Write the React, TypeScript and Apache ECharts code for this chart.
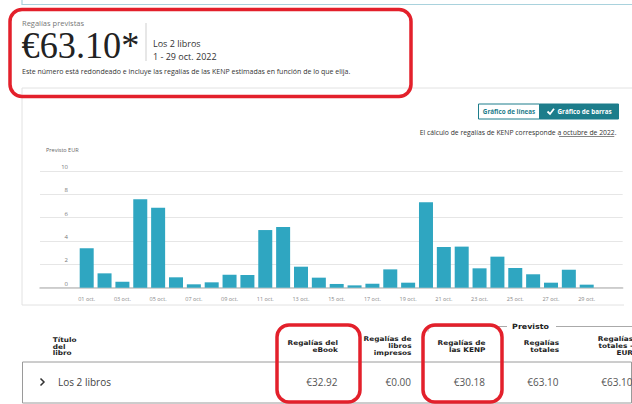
import React, { useEffect, useRef } from "react";
import * as echarts from "echarts";

const dayLabels = [
  "01 oct.", "02 oct.", "03 oct.", "04 oct.", "05 oct.", "06 oct.", "07 oct.", "08 oct.", "09 oct.", "10 oct.",
  "11 oct.", "12 oct.", "13 oct.", "14 oct.", "15 oct.", "16 oct.", "17 oct.", "18 oct.", "19 oct.", "20 oct.",
  "21 oct.", "22 oct.", "23 oct.", "24 oct.", "25 oct.", "26 oct.", "27 oct.", "28 oct.", "29 oct.",
];
const royalties = [
  3.38, 1.23, 0.51, 7.57, 6.86, 0.89, 0.29, 0.46, 1.11, 1.09,
  4.94, 5.2, 1.8, 0.86, 0.32, 0.2, 0.34, 1.57, 0.43, 7.32,
  3.49, 3.52, 1.66, 2.66, 1.69, 1.15, 0.43, 1.54, 0.26,
];
const yTicks = [0, 2, 4, 6, 8, 10];

const totalText = "€63.10*";
const headerTitle = "Regalías previstas";
const booksText = "Los 2 libros";
const periodText = "1 - 29 oct. 2022";
const noteText = "Este número está redondeado e incluye las regalías de las KENP estimadas en función de lo que elija.";
const toggleLabels = ["Gráfico de líneas", "Gráfico de barras"];
const kenpPrefix = "El cálculo de regalías de KENP corresponde a ";
const kenpLink = "octubre de 2022";
const yAxisTitle = "Previsto EUR";

const titleHeader = ["Título", "del", "libro"];
const columnHeaders = [
  ["Regalías del", "eBook"],
  ["Regalías de", "libros", "impresos"],
  ["Regalías de", "las KENP"],
  ["Regalías", "totales"],
  ["Regalías", "totales -", "EUR"],
];
const columnValues = ["€32.92", "€0.00", "€30.18", "€63.10", "€63.10"];
const groupHeader = "Previsto";
const rowTitle = "Los 2 libros";

const TEAL = "#1d7d8b";
const RED = "#e3202b";
const LINE_STEP = 6.7;

function headerLines(lines: string[], x: number, centerY: number, align: "left" | "right"): any[] {
  const top = centerY - ((lines.length - 1) * LINE_STEP) / 2;
  return lines.map((t, k) => ({
    type: "text",
    x,
    y: top + k * LINE_STEP,
    scaleX: 1.13,
    style: {
      text: t, align, verticalAlign: "middle", fontFamily: "DejaVu Sans", fontWeight: "bold",
      fontSize: 6.5, fill: "#222",
    },
  }));
}

export default function App() {
  const ref = useRef<HTMLDivElement>(null);
  useEffect(() => {
    if (!ref.current) return;
    const chart = echarts.init(ref.current, null, { renderer: "svg" });
    const colRight = [338, 411.5, 485.5, 559, 633];
    const headerG: any[] = [];
    columnHeaders.forEach((h, i) => {
      headerG.push(...headerLines(h, colRight[i], h.length === 3 ? 346 : 346.7, "right"));
    });
    const valueG: any[] = columnValues.map((v, i) => ({
      type: "text",
      x: colRight[i] - 0.5,
      y: 382,
      style: { text: v, align: "right", verticalAlign: "middle", fontFamily: "Open Sans", fontSize: 10, fill: "#555" },
    }));
    const option: any = {
      animation: false,
      textStyle: { fontFamily: "Open Sans" },
      grid: { left: 40, right: 9.3, top: 171, bottom: 116.3, containLabel: false },
      xAxis: {
        type: "value",
        min: -2.615,
        max: 30.016,
        splitLine: { show: false },
        axisTick: { show: false },
        axisLine: { show: true, lineStyle: { color: "#c4c4c4", width: 1.5 } },
        axisLabel: {
          customValues: dayLabels.map((_, i) => i).filter((i) => i % 2 === 0),
          formatter: (v: number) => dayLabels[Math.round(v)] ?? "",
          fontSize: 5.5,
          color: "#888",
          margin: 8,
        },
      },
      yAxis: {
        type: "value",
        min: yTicks[0],
        max: yTicks[yTicks.length - 1],
        interval: 2,
        axisLine: { show: false },
        axisTick: { show: false },
        splitLine: { lineStyle: { color: "#e6e6e6", width: 1 } },
        axisLabel: { margin: -28, fontSize: 6, color: "#777", verticalAlign: "bottom", lineHeight: 8 },
      },
      series: [
        {
          type: "bar",
          data: royalties.map((v, i) => [i, v]),
          barWidth: 14,
          itemStyle: { color: "#2fa6c1" },
        },
      ],
      graphic: [
        // frame lines
        { type: "polyline", shape: { points: [[22, 0], [22, 4.5], [632, 4.5]] }, style: { fill: "none", stroke: "#a9d2dd", lineWidth: 1.2 } },
        { type: "polyline", shape: { points: [[632, 88], [22, 88], [22, 305], [624, 305]] }, style: { fill: "none", stroke: "#e2e2e2", lineWidth: 1 } },
        // top summary
        { type: "text", x: 22, y: 23, style: { text: headerTitle, fontSize: 7.5, fill: "#777", verticalAlign: "middle", fontFamily: "Open Sans" } },
        { type: "text", x: 21.5, y: 45, scaleX: 0.93, style: { text: totalText, fontSize: 39, fill: "#222", verticalAlign: "middle", fontFamily: "Liberation Serif" } },
        { type: "line", shape: { x1: 146, y1: 23, x2: 146, y2: 61 }, style: { stroke: "#cfcfcf", lineWidth: 1 } },
        { type: "text", x: 153, y: 43, style: { text: booksText, fontSize: 9, fill: "#333", verticalAlign: "middle", fontFamily: "Open Sans" } },
        { type: "text", x: 153, y: 56, style: { text: periodText, fontSize: 9, fill: "#333", verticalAlign: "middle", fontFamily: "Open Sans" } },
        { type: "text", x: 22, y: 71.5, style: { text: noteText, fontSize: 7, fill: "#333", verticalAlign: "middle", fontFamily: "Open Sans" } },
        // toggle
        { type: "rect", shape: { x: 478.5, y: 104, width: 61, height: 15 }, style: { fill: "#fff", stroke: TEAL, lineWidth: 1 } },
        { type: "rect", shape: { x: 539.5, y: 104, width: 79, height: 15 }, style: { fill: TEAL, stroke: TEAL, lineWidth: 1 } },
        { type: "text", x: 509, y: 111.5, style: { text: toggleLabels[0], fontSize: 6.3, fontWeight: "bold", fill: TEAL, align: "center", verticalAlign: "middle", fontFamily: "Open Sans" } },
        { type: "polyline", shape: { points: [[547.5, 111.5], [550, 114], [554, 108.8]] }, style: { fill: "none", stroke: "#fff", lineWidth: 1.8 } },
        { type: "text", x: 557.5, y: 111.5, style: { text: toggleLabels[1], fontSize: 6.3, fontWeight: "bold", fill: "#fff", verticalAlign: "middle", fontFamily: "Open Sans" } },
        // KENP note
        { type: "text", x: 616.5, y: 132.3, style: { text: kenpPrefix + kenpLink + ".", fontSize: 6.8, fill: "#333", align: "right", verticalAlign: "middle", fontFamily: "Open Sans" } },
        { type: "line", shape: { x1: 559, y1: 136.5, x2: 614.3, y2: 136.5 }, style: { stroke: "#333", lineWidth: 0.6 } },
        { type: "text", x: 46, y: 150, style: { text: yAxisTitle, fontSize: 5.5, fill: "#666", verticalAlign: "middle", fontFamily: "Open Sans" } },
        // table
        ...headerLines(titleHeader, 52.7, 346.7, "left"),
        ...headerG,
        { type: "polyline", shape: { points: [[428, 331.5], [428, 326.5], [507, 326.5]] }, style: { fill: "none", stroke: "#aaa", lineWidth: 1 } },
        { type: "line", shape: { x1: 556, y1: 326.5, x2: 632, y2: 326.5 }, style: { stroke: "#aaa", lineWidth: 1 } },
        { type: "text", x: 530.5, y: 326.7, scaleX: 1.1, style: { text: groupHeader, align: "center", verticalAlign: "middle", fontFamily: "DejaVu Sans", fontWeight: "bold", fontSize: 7.2, fill: "#222" } },
        { type: "rect", shape: { x: 22.5, y: 362, width: 609, height: 41 }, style: { fill: "none", stroke: "#9a9a9a", lineWidth: 1 } },
        { type: "polyline", shape: { points: [[40.5, 378.5], [44, 382], [40.5, 385.5]] }, style: { fill: "none", stroke: "#333", lineWidth: 1.5 } },
        { type: "text", x: 58, y: 382, style: { text: rowTitle, fontSize: 10, fill: "#444", verticalAlign: "middle", fontFamily: "Open Sans" } },
        ...valueG,
        // red highlight boxes
        { type: "rect", z: 100, shape: { x: 10, y: 9.5, width: 401, height: 87, r: 12 }, style: { fill: "none", stroke: RED, lineWidth: 3.5 } },
        { type: "rect", z: 100, shape: { x: 277, y: 325, width: 83, height: 77, r: 12 }, style: { fill: "none", stroke: RED, lineWidth: 3.5 } },
        { type: "rect", z: 100, shape: { x: 423, y: 325, width: 79, height: 77, r: 12 }, style: { fill: "none", stroke: RED, lineWidth: 3.5 } },
      ],
    };
    chart.setOption(option);
    return () => chart.dispose();
  }, []);
  return (
    <div
      ref={ref}
      style={{ position: "fixed", left: 0, top: 0, width: 632, height: 404, background: "#fff" }}
    />
  );
}
